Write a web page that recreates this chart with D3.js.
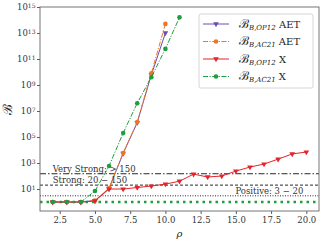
<!DOCTYPE html>
<html><head><meta charset="utf-8">
<script src="https://cdn.jsdelivr.net/npm/d3@7"></script>
<style>body{margin:0;background:#fff}svg{display:block}</style>
</head><body><svg id="c" width="326" height="243"></svg>
<script>
// ---- data ----
const rhoX = [2,3,4,5,6,7,8,9,10,11,12,13,14,15,16,17,18,19,20];
const op12X = [1,1,1,1.2,10,10,13,17,24,40,140,84,100,240,490,830,2000,5000,7000];
const rhoAET = [2,3,4,5,6,7,8,9,10];
const op12AET = [1,1,1,1.3,11,5500,1.3e6,6e9,1e13];
const ac21AET = [1,1,1,1.3,12,5900,1.4e6,8e9,5e13];
const rhoAC21X = [2,3,4,5,6,7,8,9,10,11];
const ac21X = [1,1,1,7,590,2e5,4e7,4e9,6e11,1.6e14];
const xTicks = [2.5,5.0,7.5,10.0,12.5,15.0,17.5,20.0];
const yTickExp = [1,3,5,7,9,11,13,15];
const thresholds = [
  {v:150, dash:"6,2,1.5,2", label:"Very Strong: > 150", anchor:"start"},
  {v:20, dash:"3,2", label:"Strong: 20 \u2212 150", anchor:"start"},
  {v:3, dash:"1,1.5", label:"Positive: 3 \u2212 20", anchor:"end"}
];
const series = [
  {name:"OP12", suf:" AET", rho:rhoAET, vals:op12AET, color:"#6a4fb3", dash:null, marker:"tri"},
  {name:"AC21", suf:" AET", rho:rhoAET, vals:ac21AET, color:"#ee7622", dash:"5,1.5,1.2,1.5", marker:"circle"},
  {name:"OP12", suf:" X", rho:rhoX, vals:op12X, color:"#e3242b", dash:null, marker:"tri"},
  {name:"AC21", suf:" X", rho:rhoAC21X, vals:ac21X, color:"#1f9e3f", dash:"5,1.5,1.2,1.5", marker:"circle"}
];

const svg = d3.select("#c");
const L=40,R=319,T=7,B=211;
const x = d3.scaleLinear().domain([1.1,20.9]).range([L,R]);
const y = d3.scaleLog().domain([Math.pow(10,-0.69),1e15]).range([B,T]);
const font = "'DejaVu Serif','Liberation Serif',serif";
const g = svg.append("g");

// x axis
const xa = g.append("g").attr("transform",`translate(0,${B})`)
  .call(d3.axisBottom(x).tickValues(xTicks).tickFormat(d3.format(".1f")).tickSize(3).tickPadding(3));
xa.select(".domain").remove();
xa.selectAll("line").attr("stroke","#333").attr("stroke-width",0.8);
xa.selectAll("text").attr("font-family",font).attr("font-size",8.5).attr("fill","#333");

// y axis
const ya = g.append("g").attr("transform",`translate(${L},0)`)
  .call(d3.axisLeft(y).tickValues(yTickExp.map(e=>Math.pow(10,e))).tickFormat("").tickSize(3));
ya.select(".domain").remove();
ya.selectAll("line").attr("stroke","#333").attr("stroke-width",0.8);
ya.selectAll(".tick").each(function(d,i){
  const t = d3.select(this).append("text").attr("x",-4.5).attr("dy","0.32em")
    .attr("text-anchor","end").attr("font-family",font).attr("fill","#333").attr("font-size",8.5);
  t.append("tspan").text("10");
  t.append("tspan").attr("dy","-0.45em").attr("font-size",6).text(yTickExp[i]);
});

// clip
svg.append("clipPath").attr("id","clip").append("rect").attr("x",L).attr("y",T).attr("width",R-L).attr("height",B-T);
const pg = g.append("g").attr("clip-path","url(#clip)");

// threshold lines
thresholds.forEach(t=>{
  pg.append("line").attr("x1",L).attr("x2",R).attr("y1",y(t.v)).attr("y2",y(t.v))
    .attr("stroke","#111").attr("stroke-width",0.9).attr("stroke-dasharray",t.dash);
  g.append("text").attr("x", t.anchor==="start"? x(2.0): x(20.0)-3).attr("y",y(t.v)-2)
    .attr("text-anchor",t.anchor).attr("font-family",font).attr("font-size",8.5).attr("fill","#333").text(t.label);
});
// green dotted at 1
pg.append("line").attr("x1",L).attr("x2",R).attr("y1",y(1)).attr("y2",y(1))
  .attr("stroke","#1f9e3f").attr("stroke-width",2.5).attr("stroke-dasharray","2.5,4");

// series
const line = d3.line().x(d=>x(d[0])).y(d=>y(d[1]));
const tri = d3.symbol().type(d3.symbolTriangle).size(14);
function drawMarker(sel, m, color){
  if(m==="circle") sel.append("circle").attr("r",2.3).attr("fill",color);
  else sel.append("path").attr("d",tri()).attr("transform","rotate(180)").attr("fill",color);
}
series.forEach(s=>{
  const pts = s.rho.map((r,i)=>[r,s.vals[i]]);
  pg.append("path").datum(pts).attr("d",line).attr("fill","none").attr("stroke",s.color)
    .attr("stroke-width",1).attr("stroke-dasharray",s.dash);
  pts.forEach(p=>{
    const mg = pg.append("g").attr("transform",`translate(${x(p[0])},${y(p[1])})`);
    drawMarker(mg,s.marker,s.color);
  });
});

// frame
g.append("rect").attr("x",L).attr("y",T).attr("width",R-L).attr("height",B-T)
  .attr("fill","none").attr("stroke","#666").attr("stroke-width",0.9);

// legend
const lg = g.append("g");
lg.append("rect").attr("x",199).attr("y",14).attr("width",114).attr("height",74).attr("rx",2)
  .attr("fill","#fff").attr("fill-opacity",0.85).attr("stroke","#ccc").attr("stroke-width",0.8);
series.forEach((s,i)=>{
  const yy = 24 + i*17.5;
  lg.append("line").attr("x1",203).attr("x2",229).attr("y1",yy).attr("y2",yy)
    .attr("stroke",s.color).attr("stroke-width",1).attr("stroke-dasharray",s.dash);
  drawMarker(lg.append("g").attr("transform",`translate(216,${yy})`), s.marker, s.color);
  const t = lg.append("text").attr("x",239).attr("y",yy+3.5).attr("font-family",font).attr("font-size",10).attr("fill","#222");
  t.append("tspan").attr("font-size",12).text("\u212C");
  t.append("tspan").attr("font-size",7).attr("font-style","italic").attr("dy",2).text("B,"+s.name);
  t.append("tspan").attr("dy",-2).attr("font-size",10).text(s.suf);
});

// axis labels
g.append("text").attr("x",(L+R)/2).attr("y",237).attr("text-anchor","middle")
  .attr("font-family",font).attr("font-style","italic").attr("font-size",10).attr("fill","#222").text("\u03C1");
g.append("text").attr("transform","translate(12,109) rotate(-90)").attr("text-anchor","middle")
  .attr("font-family",font).attr("font-size",13).attr("fill","#222").text("\u212C");
</script></body></html>
